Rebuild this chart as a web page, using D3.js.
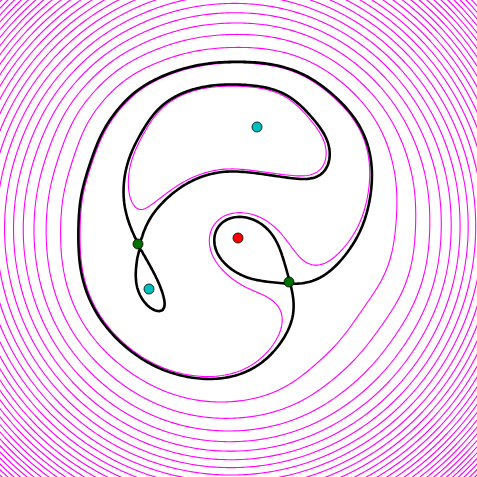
<!DOCTYPE html>
<html><head><meta charset="utf-8">
<script src="https://cdn.jsdelivr.net/npm/d3@7"></script>
<style>html,body{margin:0;padding:0;background:#fff;}svg{display:block;}</style>
</head><body>
<script>
// ---------- data (data units, y axis pointing up) ----------
const minimaX = [0.185, -0.895];
const minimaY = [1.115, -0.505];
const maximaX = [-0.005];
const maximaY = [0.005];
const saddleX = [-1.005, 0.505];
const saddleY = [-0.055, -0.435];

// scalar field: cubic bowl + central bump + quadrupole + blobs + smooth correction
const bowlCenter = [-0.115, 0.145];
const bowlCoef = 0.764;
const bumpCenter = [-0.025, 0.045];
const bumpHeight = 3.4;
const bumpWidth = 0.71;
const baseOffset = -2.032;
const quadAmp = 0.4;
const quadCore = 1.2;
const blobX = [0.265, 0.665, -0.735, -0.895];
const blobY = [0.985, -0.815, 0.535, -0.505];
const blobAmp = [-0.62, 1.0, -0.12, -0.06];
const blobSu = [0.55, 0.55, 0.40, 0.20];
const blobSv = [0.55, 0.75, 0.40, 0.20];
const blobAngle = [0, -51, 0, 0];
// correction terms: [const, r^2, r^3, cos2t, sin2t, cost, sint] (ramped)
const correctionGlobal = [-0.852, 0.286, -0.080, -0.093, -0.035, -0.581, 0.319];
const correctionSpacing = 0.35;
const correctionSigma = 0.3;
const correctionAmp = [
 0.018, -0.081, -0.102, -0.077, 0.121, -0.109, 0.162, -0.395, 0.032, 0.035,
 0.184, 0.365, 0.169, 0.301, 0.042, 0.260, -0.380, 0.094, 0.106, 0.319,
 -0.020, 0.317, 0.231, 0.176, 0.153, -0.027, 0.223, 0.208, 0.049, 0.356,
 -0.011, 0.304, 0.247, 0.032, 0.028, 0.056, 0.182, 0.160, 0.346, -0.096,
 0.409, 0.006, 0.271, 0.553, -0.066, 0.172, 0.239, 0.121, 0.110, 0.062,
 0.073, 0.279, 0.228, 0.165, 0.197, 0.163, 0.204, 0.243, 0.173, 0.226,
 0.366, 0.109, 0.620, -0.132, 0.256, 0.042, 0.226, 0.151, 0.391, 0.120,
 0.338, 0.059, -0.033, 0.313, 0.231, 0.362, 0.213, 0.416, 0.113, -0.087,
 0.217
];
const levelBase = 0;
const levelStep = 1;
const levelRange = [-3, 45];

// ---------- field ----------
const R4 = Math.pow(quadCore, 4);
const corrCenters = [];
for (let i = -5; i <= 5; i++) for (let j = -5; j <= 5; j++)
  if (i * i + j * j <= 25) corrCenters.push([bowlCenter[0] + i * correctionSpacing, bowlCenter[1] + j * correctionSpacing]);

function field(x, y) {
  const bx = x - bowlCenter[0], by = y - bowlCenter[1];
  const r2 = bx * bx + by * by, r = Math.sqrt(r2);
  const ramp = r2 * r2 / (r2 * r2 + R4);
  let f = bowlCoef * r2 * r;
  const mx = x - bumpCenter[0], my = y - bumpCenter[1];
  f += bumpHeight * Math.exp(-(mx * mx + my * my) / (2 * bumpWidth * bumpWidth)) + baseOffset;
  const c2 = r2 > 0 ? (bx * bx - by * by) / r2 : 0, s2 = r2 > 0 ? 2 * bx * by / r2 : 0;
  const c1 = r > 0 ? bx / r : 0, s1 = r > 0 ? by / r : 0;
  f += quadAmp * c2 * ramp;
  for (let k = 0; k < blobX.length; k++) {
    const dx = x - blobX[k], dy = y - blobY[k], a = blobAngle[k] * Math.PI / 180;
    const u = dx * Math.cos(a) + dy * Math.sin(a), v = -dx * Math.sin(a) + dy * Math.cos(a);
    f += blobAmp[k] * Math.exp(-u * u / (2 * blobSu[k] ** 2) - v * v / (2 * blobSv[k] ** 2));
  }
  const gb = [1, r2 * ramp, r2 * r * ramp, ramp * c2, ramp * s2, ramp * c1, ramp * s1];
  for (let k = 0; k < gb.length; k++) f += correctionGlobal[k] * gb[k];
  const s = 2 * correctionSigma * correctionSigma;
  for (let k = 0; k < corrCenters.length; k++) {
    const dx = x - corrCenters[k][0], dy = y - corrCenters[k][1];
    f += correctionAmp[k] * Math.exp(-(dx * dx + dy * dy) / s);
  }
  return f;
}

// saddle levels: refine each marked saddle with Newton steps on the gradient
function refineCritical(x, y) {
  const h = 1e-4; let px = x, py = y;
  for (let it = 0; it < 60; it++) {
    const f0 = field(px, py);
    const fx = (field(px + h, py) - field(px - h, py)) / (2 * h), fy = (field(px, py + h) - field(px, py - h)) / (2 * h);
    const fxx = (field(px + h, py) - 2 * f0 + field(px - h, py)) / (h * h), fyy = (field(px, py + h) - 2 * f0 + field(px, py - h)) / (h * h);
    const fxy = (field(px + h, py + h) - field(px + h, py - h) - field(px - h, py + h) + field(px - h, py - h)) / (4 * h * h);
    const det = fxx * fyy - fxy * fxy; if (Math.abs(det) < 1e-12) break;
    let sx = (fyy * fx - fxy * fy) / det, sy = (-fxy * fx + fxx * fy) / det;
    const len = Math.hypot(sx, sy);
    if (len > 0.03) { sx *= 0.03 / len; sy *= 0.03 / len; }
    px -= sx; py -= sy; if (len < 1e-8) break;
  }
  if (Math.hypot(px - x, py - y) > 0.3) return [x, y];
  return [px, py];
}
const saddleLevels = saddleX.map((sx, i) => field(...refineCritical(sx, saddleY[i])));

// ---------- drawing ----------
const W = 477, H = 477;
const xScale = d3.scaleLinear().domain([-2.385, 2.385]).range([0, W]);
const yScale = d3.scaleLinear().domain([-2.385, 2.385]).range([H, 0]);

const step = 0.025, x0 = -2.45, yTop = 2.45;
const n = Math.round((2 * 2.45) / step) + 1;
const values = new Float64Array(n * n);
for (let j = 0; j < n; j++) for (let i = 0; i < n; i++) values[j * n + i] = field(x0 + i * step, yTop - j * step);

const svg = d3.select("body").append("svg").attr("width", W).attr("height", H);
svg.append("rect").attr("width", W).attr("height", H).attr("fill", "#fff");
const path = d3.geoPath(d3.geoTransform({
  point(x, y) { this.stream.point(xScale(x0 + x * step), yScale(yTop - y * step)); }
}));
const contours = d3.contours().size([n, n]);
const magentaLevels = d3.range(levelRange[0], levelRange[1]).map(k => levelBase + k * levelStep);

svg.append("g").selectAll("path")
  .data(contours.thresholds(magentaLevels)(values))
  .join("path").attr("d", path)
  .attr("fill", "none").attr("stroke", "#ff00ff").attr("stroke-width", 1.1);

svg.append("g").selectAll("path")
  .data(saddleLevels.map(l => contours.contour(values, l)))
  .join("path").attr("d", path)
  .attr("fill", "none").attr("stroke", "#000").attr("stroke-width", 2.6).attr("stroke-linejoin", "round");

function dots(xs, ys, color) {
  svg.append("g").selectAll("circle").data(xs.map((x, i) => [x, ys[i]])).join("circle")
    .attr("cx", d => xScale(d[0])).attr("cy", d => yScale(d[1])).attr("r", 5)
    .attr("fill", color).attr("stroke", "#000").attr("stroke-width", 0.8);
}
dots(minimaX, minimaY, "#00bfbf");
dots(maximaX, maximaY, "#ff0000");
dots(saddleX, saddleY, "#007000");
</script>
</body></html>
